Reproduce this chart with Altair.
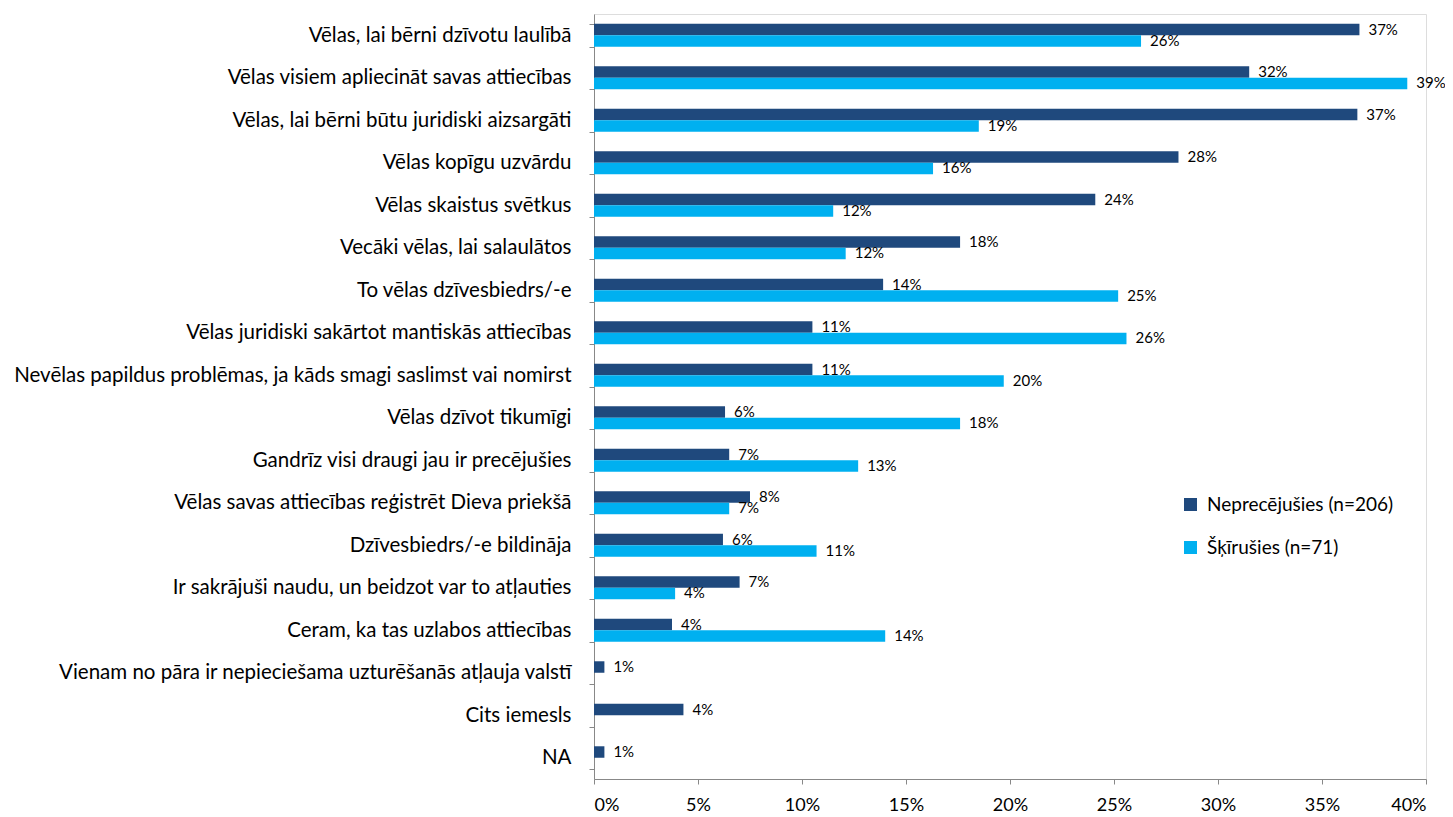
import altair as alt
import pandas as pd

categories = [
    "Vēlas, lai bērni dzīvotu laulībā",
    "Vēlas visiem apliecināt savas attiecības",
    "Vēlas, lai bērni būtu juridiski aizsargāti",
    "Vēlas kopīgu uzvārdu",
    "Vēlas skaistus svētkus",
    "Vecāki vēlas, lai salaulātos",
    "To vēlas dzīvesbiedrs/-e",
    "Vēlas juridiski sakārtot mantiskās attiecības",
    "Nevēlas papildus problēmas, ja kāds smagi saslimst vai nomirst",
    "Vēlas dzīvot tikumīgi",
    "Gandrīz visi draugi jau ir precējušies",
    "Vēlas savas attiecības reģistrēt Dieva priekšā",
    "Dzīvesbiedrs/-e bildināja",
    "Ir sakrājuši naudu, un beidzot var to atļauties",
    "Ceram, ka tas uzlabos attiecības",
    "Vienam no pāra ir nepieciešama uzturēšanās atļauja valstī",
    "Cits iemesls",
    "NA",
]
series = ["Neprecējušies (n=206)", "Šķīrušies (n=71)"]

nepre = [0.368, 0.315, 0.367, 0.281, 0.241, 0.176, 0.139, 0.105, 0.105, 0.063,
         0.065, 0.075, 0.062, 0.070, 0.0375, 0.005, 0.043, 0.005]
nepre_lbl = ["37%", "32%", "37%", "28%", "24%", "18%", "14%", "11%", "11%", "6%",
             "7%", "8%", "6%", "7%", "4%", "1%", "4%", "1%"]
skir = [0.263, 0.391, 0.185, 0.163, 0.115, 0.121, 0.252, 0.256, 0.197, 0.176,
        0.127, 0.065, 0.107, 0.039, 0.140, None, None, None]
skir_lbl = ["26%", "39%", "19%", "16%", "12%", "12%", "25%", "26%", "20%", "18%",
            "13%", "7%", "11%", "4%", "14%", None, None, None]

rows = []
for i, c in enumerate(categories):
    rows.append({"cat": c, "series": series[0], "val": nepre[i], "lbl": nepre_lbl[i]})
    if skir[i] is not None:
        rows.append({"cat": c, "series": series[1], "val": skir[i], "lbl": skir_lbl[i]})
df = pd.DataFrame(rows)

FONT = "Lato"
colors = ["#1F497D", "#00B0F0"]

y_enc = alt.Y("cat:N", sort=categories, title=None,
              scale=alt.Scale(paddingInner=0.46, paddingOuter=0.23),
              axis=alt.Axis(tickBand="extent", labelFontSize=20.5, labelFont=FONT,
                            labelColor="#000000", labelPadding=18, tickSize=5,
                            domainColor="#888888", tickColor="#888888", labelLimit=700))
yoff = alt.YOffset("series:N", scale=alt.Scale(domain=series))

base = alt.Chart(df)

bars = base.mark_bar().encode(
    y=y_enc,
    yOffset=yoff,
    x=alt.X("val:Q", title=None,
            scale=alt.Scale(domain=[0, 0.4], nice=False),
            axis=alt.Axis(format=".0%", values=[0, 0.05, 0.1, 0.15, 0.2, 0.25, 0.3, 0.35, 0.4],
                          grid=False, labelFontSize=18, labelFont=FONT, labelColor="#000000",
                          tickSize=5, labelPadding=12, domainColor="#888888",
                          tickColor="#888888")),
    color=alt.Color("series:N", scale=alt.Scale(domain=series, range=colors),
                    legend=alt.Legend(title=None, orient="none", legendX=587, legendY=481,
                                      symbolType="square", symbolSize=170,
                                      symbolStrokeWidth=0, labelLimit=400,
                                      labelFontSize=19, labelFont=FONT, labelColor="#000000",
                                      rowPadding=23, labelOffset=7)),
)

labels = base.mark_text(align="left", baseline="middle", dx=9, fontSize=15,
                        font=FONT, color="#000000").encode(
    y=alt.Y("cat:N", sort=categories),
    yOffset=yoff,
    x="val:Q",
    text="lbl:N",
)

chart = (bars + labels).properties(
    width=832, height=765,
    autosize=alt.AutoSizeParams(type="none"),
    padding={"left": 586, "top": 6, "right": 19, "bottom": 34},
).configure_view(stroke=None).configure(background="white")

chart.save("out.html", embed_options={"renderer": "svg", "actions": False})
